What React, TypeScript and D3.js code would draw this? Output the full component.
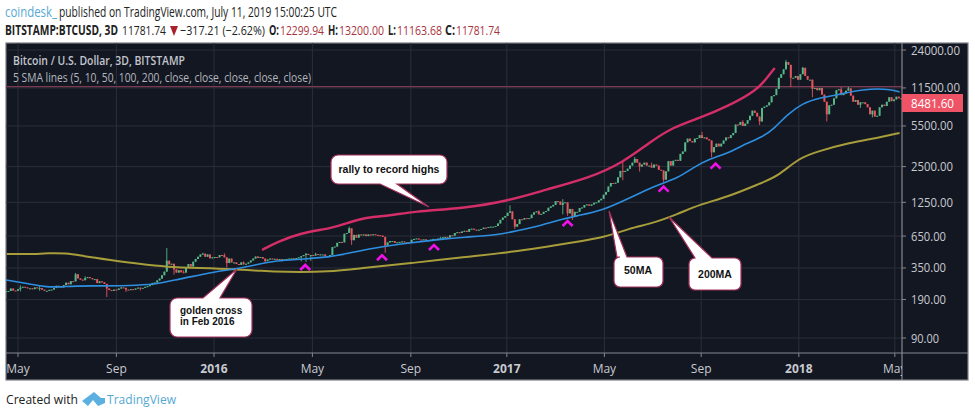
import React from "react";
import * as d3 from "d3";

// Three-day closes, first bar 2015-04-16
const closes = [
  222,224,235,226,225,232,239,243,240,236,236,232,240,237,237,230,225,225,229,230,237,248,244,240,251,263,255,271,270,310,
  286,279,276,288,293,287,281,282,261,270,265,257,235,228,225,230,229,235,240,238,230,229,232,230,235,239,238,238,243,246,
  251,262,264,275,285,304,326,403,375,380,340,320,335,322,320,355,378,360,395,417,435,455,462,435,455,422,430,433,430,450,
  448,430,385,420,390,390,378,372,390,375,380,390,405,420,437,425,433,420,400,412,420,415,418,410,416,415,415,417,420,422,
  420,425,430,440,450,460,450,450,445,458,450,455,455,440,440,450,525,530,570,580,575,680,690,755,600,665,630,670,660,670,
  650,670,660,672,665,660,655,640,540,575,590,590,570,575,580,585,575,575,572,605,615,620,608,607,610,597,600,605,615,610,
  618,620,635,640,632,660,655,690,700,690,710,720,705,745,750,735,730,735,745,765,760,775,780,780,790,830,890,930,960,1020,
  1050,900,780,820,900,895,920,915,920,985,1030,1050,990,1000,1040,1055,1125,1155,1190,1280,1270,1190,1240,1250,1010,1100,940,1040,1040,1120,
  1130,1185,1200,1170,1200,1240,1250,1300,1340,1450,1530,1700,1820,1800,1830,2030,2300,2250,2300,2400,2550,2700,2900,2700,2500,2600,2700,2550,2550,2450,
  2600,2550,2350,2320,1940,2280,2780,2550,2800,2850,2800,3200,3350,4000,4300,4100,4000,4300,4350,4600,4350,4400,4250,4150,3300,3650,3900,3700,3900,4150,
  4400,4350,4600,4800,5650,5600,5950,5500,5750,6150,6700,7400,7100,6600,6000,7800,8000,8200,8700,9800,10000,11300,14000,15000,16500,19000,18000,14000,14000,14500,
  13500,15000,17000,14500,13500,13500,11300,11500,11000,11500,10100,8800,6900,8200,8300,9400,11000,11200,10000,10300,10900,11400,9900,8800,9100,8300,8700,8700,8400,7900,
  6900,7400,6600,6700,7900,8300,8100,8800,9600,8900,9200,9700,9400,9300,
];
const firstBar = "2015-04-16";
const stepDays = 3;

// Notable wicks: bar date, high, low (0 = no wick on that side)
const wickDates = ["2015-05-04","2015-05-28","2015-07-12","2015-07-24","2015-08-20","2015-09-13","2015-10-01","2015-11-03","2015-11-12","2015-11-24","2015-12-18","2016-01-14","2016-01-17","2016-02-07","2016-03-05","2016-04-19","2016-04-25","2016-05-01","2016-05-07","2016-06-18","2016-06-21","2016-07-12","2016-08-02","2016-10-10","2017-01-05","2017-01-11","2017-02-10","2017-03-12","2017-03-18","2017-03-24","2017-05-26","2017-06-10","2017-06-16","2017-07-01","2017-07-16","2017-09-02","2017-09-14","2017-10-23","2017-11-13","2017-12-16","2017-12-22","2018-01-06","2018-01-18","2018-02-05","2018-02-23","2018-03-04","2018-03-19","2018-04-03"];
const wickHighs = [250,248,318,298,0,0,0,515,0,335,470,465,0,398,0,0,468,0,470,780,0,0,0,640,1180,0,1070,1330,0,0,2780,3010,0,2700,0,4900,0,6150,0,19800,0,17300,0,0,11700,11750,0,0];
const wickLows = [222,225,0,0,199,220,226,0,308,0,0,0,352,0,385,398,395,402,0,0,548,0,470,0,0,745,0,990,960,890,1920,0,2270,0,1840,0,2990,0,5600,0,11700,0,9600,6000,0,0,7800,6500];

const maDays50 = [-15,9,34,52,71,102,152,175,202,227,245,272,296,321,340,359,390,415,444,490,531,556,599,624,656,681,702,731,756,790,802,824,844,865,890,902,931,946,961,981,1002,1024,1056,1090,1102];
const ma50 = [277,261,242,242,247,247,250,257,283,305,324,343,371,401,409,417,433,468,516,571,614,635,663,720,804,909,971,1076,1282,1640,1773,1990,2450,2920,3280,3690,4445,5290,6807,8590,9476,10040,11280,11280,10630];

const maDays200 = [-14,30,34,61,81,115,152,186,227,269,306,331,390,431,494,556,619,681,736,765,790,824,852,886,931,949,977,999,1040,1074,1102];
const ma200 = [458,458,467,467,441,409,378,357,350,343,330,324,324,350,385,433,476,556,638,759,820,990,1202,1377,1843,2060,2976,3347,3980,4356,4800];

const trendDays = [305,324,352,394,415,436,465,494,556,611,661,715,756,790,819,852,886,924,935,946];
const trendLine = [496,578,689,760,852,939,965,1050,1112,1275,1609,2020,2700,4030,5390,6425,7958,11050,13700,16960];

const caretDays = [359,455,520,687,807,872];
const caretPrices = [357,431,526,838,1630,2550];

const priceTicks = [24000,11500,5500,2500,1250,650,350,190,90];
const timeTicks = ["2015-05-01","2015-09-01","2016-01-01","2016-05-03","2016-09-03","2017-01-01","2017-05-03","2017-09-01","2018-01-01","2018-05-01"];
const timeLabels = ["May","Sep","2016","May","Sep","2017","May","Sep","2018","May"];

const lastClose = 11781.74;
const seriesPrice = 8481.6;

const UP = "#55b786";
const DOWN = "#e4575f";
const DAY = 86400000;
const day0 = Date.UTC(2015, 4, 1);
const fromOffset = (d: number) => new Date(day0 + d * DAY);

const x = d3.scaleUtc().domain([fromOffset(-15), fromOffset(1105)]).range([6, 902]);
const y = d3.scaleLog().domain([24000, 90]).range([50, 338]);

const barDate = (i: number) => new Date(Date.parse(firstBar) + i * stepDays * DAY);
const wickIndex = new Map(wickDates.map((d, k) => [Math.round((Date.parse(d) - Date.parse(firstBar)) / (stepDays * DAY)), k]));
const bars = closes.map((c, i) => {
  const o = i === 0 ? c : closes[i - 1];
  const k = wickIndex.get(i);
  const hi = k !== undefined && wickHighs[k] ? wickHighs[k] : Math.max(o, c);
  const lo = k !== undefined && wickLows[k] ? wickLows[k] : Math.min(o, c);
  return { date: barDate(i), o, c, hi, lo };
});

const maLine = (days: number[], vals: number[]) =>
  d3.line<number>().x((d) => x(fromOffset(d))).y((_, i) => y(vals[i])).curve(d3.curveBasis)(days) || "";

function callout(l: number, t: number, w: number, h: number, r: number, side: "top" | "bottom", a: number, b: number, tipX: number, tipY: number) {
  const R = l + w, B = t + h;
  const top = side === "top" ? `L${a},${t} L${tipX},${tipY} L${b},${t} ` : "";
  const bot = side === "bottom" ? `L${b},${B} L${tipX},${tipY} L${a},${B} ` : "";
  return `M${l + r},${t} ${top}L${R - r},${t} A${r},${r} 0 0 1 ${R},${t + r} L${R},${B - r} A${r},${r} 0 0 1 ${R - r},${B} ${bot}L${l + r},${B} A${r},${r} 0 0 1 ${l},${B - r} L${l},${t + r} A${r},${r} 0 0 1 ${l + r},${t} Z`;
}

const UI = "'Open Sans', 'Noto Sans', sans-serif";
const NARROW = "'Liberation Sans Narrow', 'Open Sans', sans-serif";
const ARIAL = "'Liberation Sans', Arial, sans-serif";
const DARK = "#222";
const RED = "#a8323c";

function Seg({ x: px, w, fill = DARK, bold = false, children }: any) {
  return (
    <tspan x={px} textLength={w} lengthAdjust="spacingAndGlyphs" fontWeight={bold ? 700 : 400} fill={fill}>
      {children}
    </tspan>
  );
}

function Callout({ d, children }: any) {
  return (
    <g>
      <path d={d} fill="#fff" stroke="#a3305a" strokeWidth={1.2} />
      {children}
    </g>
  );
}

export default function App() {
  const plotR = 902;
  const fmt = d3.format(".2f");
  return (
    <svg width={975} height={417} viewBox="0 0 975 417" style={{ position: "absolute", left: 0, top: 0, background: "#fff" }}>
      <defs>
        <clipPath id="plot"><rect x={6} y={43} width={plotR - 6} height={310} /></clipPath>
        <clipPath id="axisClip"><rect x={6} y={353} width={plotR - 6} height={27} /></clipPath>
      </defs>

      <text y={17} fontFamily={NARROW} fontSize={14}>
        <Seg x={5} w={52} fill="#57a9d4">coindesk_</Seg>
        <Seg x={59} w={278}>published on TradingView.com, July 11, 2019 15:00:25 UTC</Seg>
      </text>

      <text y={35} fontFamily={NARROW} fontSize={13.5}>
        <Seg x={5} w={113} bold>BITSTAMP:BTCUSD, 3D</Seg>
        <Seg x={122} w={44}>{fmt(lastClose)}</Seg>
        <Seg x={180} w={85}>−317.21 (−2.62%)</Seg>
        <Seg x={269} w={10} bold>O:</Seg>
        <Seg x={280} w={44} fill={RED}>12299.94</Seg>
        <Seg x={328} w={10} bold>H:</Seg>
        <Seg x={339} w={45} fill={RED}>13200.00</Seg>
        <Seg x={388} w={8} bold>L:</Seg>
        <Seg x={397} w={45} fill={RED}>11163.68</Seg>
        <Seg x={445} w={10} bold>C:</Seg>
        <Seg x={456} w={44} fill={RED}>{fmt(lastClose)}</Seg>
      </text>
      <path d="M170,26 L178,26 L174,36 Z" fill="#a8202c" />

      {/* panel */}
      <rect x={6} y={43} width={962} height={337} fill="#131722" stroke="#7d7f85" strokeWidth={1.2} />

      {/* grid */}
      {priceTicks.map((t) => (
        <line key={t} x1={6} x2={plotR} y1={y(t)} y2={y(t)} stroke="#2b2f3b" />
      ))}
      {timeTicks.map((t) => (
        <line key={t} x1={x(new Date(t))} x2={x(new Date(t))} y1={43} y2={353} stroke="#2b2f3b" />
      ))}

      <g clipPath="url(#plot)">
        <line x1={6} x2={plotR} y1={y(lastClose)} y2={y(lastClose)} stroke="#7a3a50" strokeWidth={1.3} />
        {bars.map((b, i) => {
          const col = b.c >= b.o ? UP : DOWN;
          const cx = x(b.date);
          const top = y(Math.max(b.o, b.c));
          const bot = y(Math.min(b.o, b.c));
          return (
            <g key={i}>
              <line x1={cx} x2={cx} y1={y(b.hi)} y2={y(b.lo)} stroke={col} strokeWidth={0.9} />
              <rect x={cx - 1} y={top} width={2} height={Math.max(1, bot - top)} fill={col} />
            </g>
          );
        })}
        <path d={maLine(maDays200, ma200)} fill="none" stroke="#a79d3b" strokeWidth={2} />
        <path d={maLine(maDays50, ma50)} fill="none" stroke="#2e8fe0" strokeWidth={1.6} />
        <path d={maLine(trendDays, trendLine)} fill="none" stroke="#d42e68" strokeWidth={2.4} />
        {caretDays.map((d, i) => {
          const cx = x(fromOffset(d));
          const cy = y(caretPrices[i]);
          return <path key={d} d={`M${cx - 5},${cy + 3} L${cx},${cy - 2} L${cx + 5},${cy + 3}`} fill="none" stroke="#f010e8" strokeWidth={2.6} />;
        })}
      </g>

      {/* callouts */}
      <Callout d={callout(331, 155, 116, 29, 7, "bottom", 380, 397, 429, 207)}>
        <text x={389} y={173} textAnchor="middle" fontFamily={ARIAL} fontSize={10.5} fontWeight={700} fill="#111">rally to record highs</text>
      </Callout>
      <Callout d={callout(170, 298, 82, 39, 7, "top", 203, 220, 237, 269)}>
        <text fontFamily={ARIAL} fontSize={10} fontWeight={700} fill="#111">
          <tspan x={180} y={314}>golden cross</tspan>
          <tspan x={180} y={325}>in Feb 2016</tspan>
        </text>
      </Callout>
      <Callout d={callout(614, 257, 49, 30, 6, "top", 617, 627, 609, 211)}>
        <text x={638} y={274} textAnchor="middle" fontFamily={ARIAL} fontSize={10.5} fontWeight={700} fill="#111">50MA</text>
      </Callout>
      <Callout d={callout(689, 258, 52, 32, 6, "top", 695, 712, 669, 217)}>
        <text x={715} y={278} textAnchor="middle" fontFamily={ARIAL} fontSize={10.5} fontWeight={700} fill="#111">200MA</text>
      </Callout>

      {/* legend */}
      <text x={13} y={65} fontFamily={UI} fontSize={12.5} fontWeight={600} textLength={172} lengthAdjust="spacingAndGlyphs" fill="#c3c6cd">Bitcoin / U.S. Dollar, 3D, BITSTAMP</text>
      <text x={13} y={82} fontFamily={UI} fontSize={12.5} textLength={298} lengthAdjust="spacingAndGlyphs" fill="#b4b7bf">5 SMA lines (5, 10, 50, 100, 200, close, close, close, close, close)</text>

      {/* axes */}
      <line x1={6} x2={968} y1={353} y2={353} stroke="#85878d" strokeWidth={1.2} />
      <line x1={plotR} x2={plotR} y1={43} y2={380} stroke="#85878d" strokeWidth={1.2} />
      {priceTicks.map((t) => (
        <g key={t}>
          <line x1={plotR} x2={plotR + 4} y1={y(t)} y2={y(t)} stroke="#85878d" />
          <text x={911} y={y(t) + 4.5} fontFamily={UI} fontSize={12.5} textLength={t >= 1000 ? (t >= 10000 ? 49 : 42) : t >= 100 ? 35 : 28} lengthAdjust="spacingAndGlyphs" fill="#c8cad0">{fmt(t)}</text>
        </g>
      ))}
      <rect x={902} y={94} width={61} height={18} fill="#ef5466" />
      <text x={911} y={107.5} fontFamily={UI} fontSize={12.5} textLength={43} lengthAdjust="spacingAndGlyphs" fill="#fff">{fmt(seriesPrice)}</text>

      <g clipPath="url(#axisClip)">
        {timeTicks.map((t, i) => {
          const tx = x(new Date(t));
          const year = /^\d+$/.test(timeLabels[i]);
          return (
            <g key={t}>
              <line x1={tx} x2={tx} y1={353} y2={357} stroke="#85878d" />
              <text x={tx} y={373} textAnchor="middle" fontFamily={UI} fontSize={12} fontWeight={year ? 700 : 500} fill="#c8cad0">{timeLabels[i]}</text>
            </g>
          );
        })}
      </g>

      {/* footer */}
      <text x={6} y={404} fontFamily={UI} fontSize={13.5} textLength={72} lengthAdjust="spacingAndGlyphs" fill="#222">Created with</text>
      <path d="M82,401 L94,392 L101,398 L105,398 L105,403 L98,406 L93,400 L88,406 Z" fill="#5bb0df" />
      <text x={107} y={404} fontFamily={UI} fontSize={13.5} textLength={69} lengthAdjust="spacingAndGlyphs" fill="#57a9d4">TradingView</text>
    </svg>
  );
}
